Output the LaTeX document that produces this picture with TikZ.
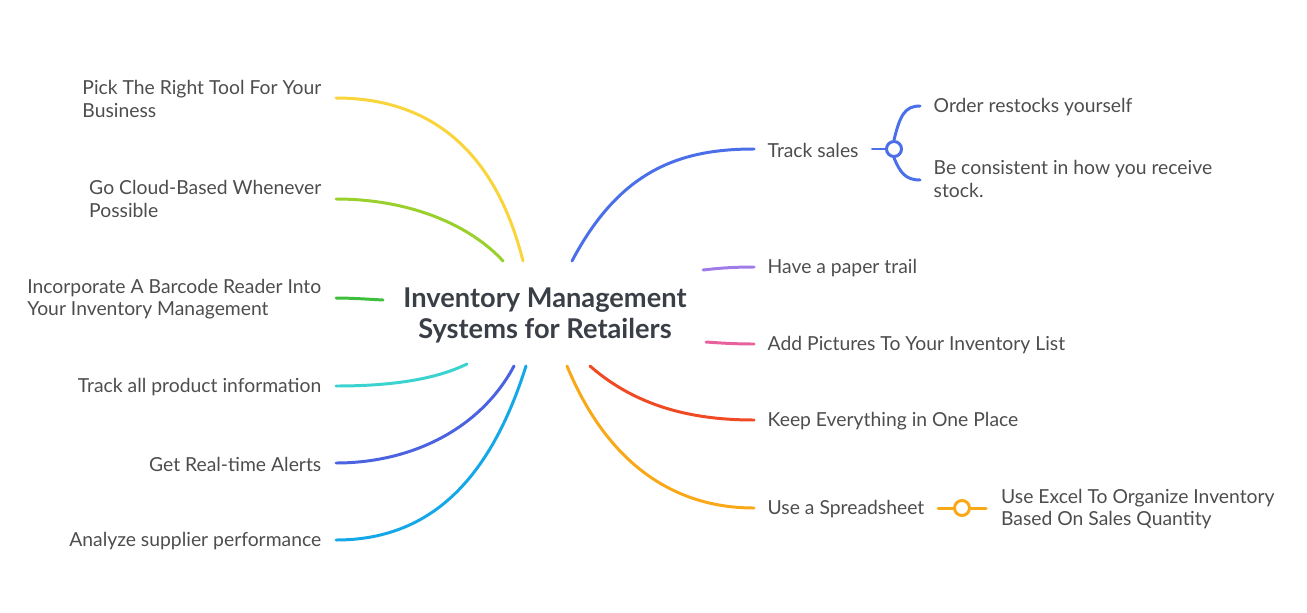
\documentclass[tikz,border=0pt]{standalone}
\usepackage{fontspec}
\setmainfont{Lato}
\usepackage{xcolor}
\usetikzlibrary{positioning}
\definecolor{txtgray}{HTML}{4D4D4D}
\definecolor{titlegray}{HTML}{3A3F47}
\definecolor{cyellow}{HTML}{F9D43A}
\definecolor{clime}{HTML}{99D02B}
\definecolor{cgreen}{HTML}{3DBE3D}
\definecolor{ccyan}{HTML}{3BD3D0}
\definecolor{cindigo}{HTML}{4B63E0}
\definecolor{csky}{HTML}{14A8E8}
\definecolor{cblue}{HTML}{4A6FE8}
\definecolor{cpurple}{HTML}{A07CE8}
\definecolor{cpink}{HTML}{E8609E}
\definecolor{cred}{HTML}{F04A25}
\definecolor{corange}{HTML}{F9A818}

\begin{document}
\begin{tikzpicture}[
        x=0.02cm, y=-0.02cm,
        title/.style={align=center, font=\fontsize{15.5}{17.6}\selectfont\bfseries, text=titlegray},
        lefttopic/.style={anchor=east, align=left, inner xsep=8.2pt, font=\fontsize{11}{12.8}\selectfont, text=txtgray},
        righttopic/.style={anchor=west, align=left, inner xsep=7.6pt, font=\fontsize{11}{12.8}\selectfont, text=txtgray},
        branch/.style={line width=1.7pt, line cap=round},
        knob/.style={circle, draw, line width=1.7pt, fill=white, inner sep=0pt, minimum size=0.3cm}
    ]
        \useasboundingbox (0,0) rectangle (1307,612);

        % central topic
        \node[title] (root) at (545,315) {Inventory Management\\Systems for Retailers};

        % left topics
        \node[lefttopic] (picktool) at (336,99) {Pick The Right Tool For Your\\Business};
        \node[lefttopic] (cloud) at (336,199) {Go Cloud-Based Whenever\\Possible};
        \node[lefttopic] (barcode) at (336,299) {Incorporate A Barcode Reader Into\\Your Inventory Management};
        \node[lefttopic] (prodinfo) at (336,387) {Track all product information};
        \node[lefttopic] (alerts) at (336,464) {Get Real-time Alerts};
        \node[lefttopic] (supplier) at (336,541) {Analyze supplier performance};

        % right topics
        \node[righttopic] (sales) at (754,150) {Track sales};
        \node[righttopic] (paper) at (754,268) {Have a paper trail};
        \node[righttopic] (pictures) at (754,345) {Add Pictures To Your Inventory List};
        \node[righttopic] (oneplace) at (754,421) {Keep Everything in One Place};
        \node[righttopic] (sheet) at (754,509) {Use a Spreadsheet};

        % subtopics
        \node[knob, draw=cblue] (salesknob) at (894,149) {};
        \node[righttopic] (restock) at (920,107) {Order restocks yourself};
        \node[righttopic] (receive) at (920,179) {Be consistent in how you receive\\stock.};
        \node[knob, draw=corange] (sheetknob) at (962,508) {};
        \node[righttopic, inner xsep=8.4pt] (excel) at (986,509) {Use Excel To Organize Inventory\\Based On Sales Quantity};

        % branch roots around the title
        \coordinate (r1) at (523,261);
        \coordinate (r2) at (503,261);
        \coordinate (r3) at (383,300);
        \coordinate (r4) at (467,364);
        \coordinate (r5) at (514,366);
        \coordinate (r6) at (526,366);
        \coordinate (r7) at (572,261);
        \coordinate (r8) at (703,270);
        \coordinate (r9) at (706,342);
        \coordinate (r10) at (590,366);
        \coordinate (r11) at (567,366);

        \draw[branch, cyellow] (r1) .. controls (495,150) and (430,98) .. (picktool.east |- 0,98);
        \draw[branch, clime] (r2) .. controls (470,225) and (410,199) .. (cloud.east |- 0,199);
        \draw[branch, cgreen] (r3) .. controls (365,299) and (350,298) .. (barcode.east |- 0,298);
        \draw[branch, ccyan] (r4) .. controls (430,382) and (380,386) .. (prodinfo.east |- 0,386);
        \draw[branch, cindigo] (r5) .. controls (480,430) and (410,463) .. (alerts.east |- 0,463);
        \draw[branch, csky] (r6) .. controls (490,480) and (430,540) .. (supplier.east |- 0,540);

        \draw[branch, cblue] (r7) .. controls (620,170) and (680,149) .. (sales.west |- 0,149);
        \draw[branch, cpurple] (r8) .. controls (720,268) and (735,267) .. (paper.west |- 0,267);
        \draw[branch, cpink] (r9) .. controls (720,343) and (735,344) .. (pictures.west |- 0,344);
        \draw[branch, cred] (r10) .. controls (640,410) and (700,420) .. (oneplace.west |- 0,420);
        \draw[branch, corange] (r11) .. controls (610,470) and (680,508) .. (sheet.west |- 0,508);

        \draw[branch, cblue] (sales.east |- salesknob) -- (salesknob.west);
        \draw[branch, cblue] (salesknob.north) .. controls (900,115) and (905,106) .. (restock.west |- 0,106);
        \draw[branch, cblue] (salesknob.south) .. controls (900,172) and (905,180) .. (receive.west |- 0,180);
        \draw[branch, corange] (sheet.east |- sheetknob) -- (sheetknob.west);
        \draw[branch, corange] (sheetknob.east) -- (excel.west |- sheetknob);
    \end{tikzpicture}
\end{document}
